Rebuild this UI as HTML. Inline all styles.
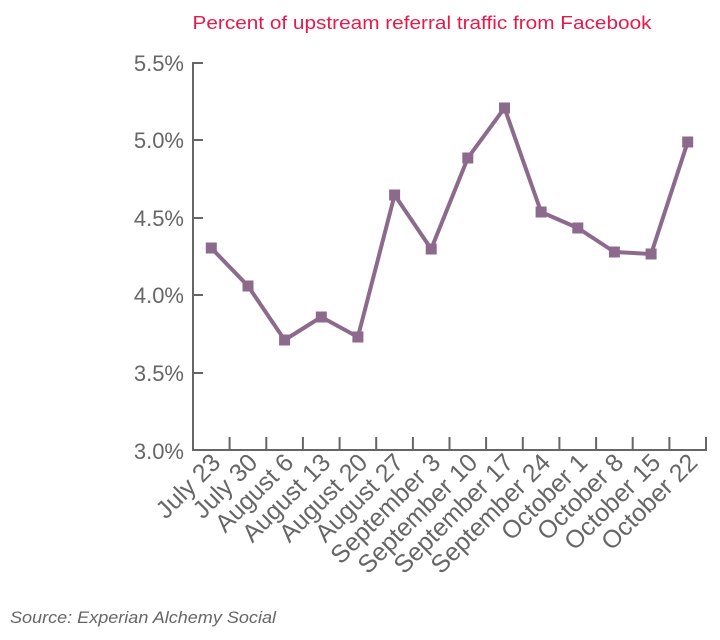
<!DOCTYPE html>
<html><head><meta charset="utf-8"><style>
html,body{margin:0;padding:0;background:#fff;}
svg{display:block;font-family:"Liberation Sans",sans-serif;}
</style></head><body>
<svg width="720" height="640" viewBox="0 0 720 640">
<text x="422" y="29" text-anchor="middle" font-size="18" fill="#e8194a" textLength="459" lengthAdjust="spacingAndGlyphs">Percent of upstream referral traffic from Facebook</text>
<g stroke="#666" stroke-width="2" fill="none">
<path d="M203 63 H193 V450 H706 V437"/>
<path d="M193 140 H203 M193 218 H203 M193 295 H203 M193 373 H203"/>
<path d="M229.6 450 V437 M266.3 450 V437 M302.9 450 V437 M339.6 450 V437 M376.2 450 V437 M412.9 450 V437 M449.5 450 V437 M486.1 450 V437 M522.8 450 V437 M559.4 450 V437 M596.1 450 V437 M632.7 450 V437 M669.4 450 V437"/>
</g>
<g font-size="22" fill="#666" text-anchor="end">
<text x="184" y="71">5.5%</text>
<text x="184" y="148">5.0%</text>
<text x="184" y="226">4.5%</text>
<text x="184" y="303">4.0%</text>
<text x="184" y="381">3.5%</text>
<text x="184" y="459">3.0%</text>
</g>
<g font-size="25" fill="#666" text-anchor="end">
<text transform="translate(222,464) rotate(-45)">July 23</text>
<text transform="translate(259,464) rotate(-45)">July 30</text>
<text transform="translate(295,464) rotate(-45)">August 6</text>
<text transform="translate(332,464) rotate(-45)">August 13</text>
<text transform="translate(369,464) rotate(-45)">August 20</text>
<text transform="translate(405,464) rotate(-45)">August 27</text>
<text transform="translate(442,464) rotate(-45)">September 3</text>
<text transform="translate(479,464) rotate(-45)">September 10</text>
<text transform="translate(515,464) rotate(-45)">September 17</text>
<text transform="translate(552,464) rotate(-45)">September 24</text>
<text transform="translate(589,464) rotate(-45)">October 1</text>
<text transform="translate(625,464) rotate(-45)">October 8</text>
<text transform="translate(662,464) rotate(-45)">October 15</text>
<text transform="translate(699,464) rotate(-45)">October 22</text>
</g>
<polyline fill="none" stroke="#8c6a8c" stroke-width="4" stroke-linejoin="round" points="211.3,248 248,286 284.6,340 321.3,317 357.9,337 394.6,195 431.2,249 467.8,158 504.5,108 541.1,212 577.8,228 614.4,252 651.1,254 687.7,142"/>
<g fill="#8c6a8c">
<rect x="205.8" y="242.5" width="11" height="11"/>
<rect x="242.5" y="280.5" width="11" height="11"/>
<rect x="279.1" y="334.5" width="11" height="11"/>
<rect x="315.8" y="311.5" width="11" height="11"/>
<rect x="352.4" y="331.5" width="11" height="11"/>
<rect x="389.1" y="189.5" width="11" height="11"/>
<rect x="425.7" y="243.5" width="11" height="11"/>
<rect x="462.3" y="152.5" width="11" height="11"/>
<rect x="499" y="102.5" width="11" height="11"/>
<rect x="535.6" y="206.5" width="11" height="11"/>
<rect x="572.3" y="222.5" width="11" height="11"/>
<rect x="608.9" y="246.5" width="11" height="11"/>
<rect x="645.6" y="248.5" width="11" height="11"/>
<rect x="682.2" y="136.5" width="11" height="11"/>
</g>
<text x="10" y="623" font-size="17" font-style="italic" fill="#666" textLength="266" lengthAdjust="spacingAndGlyphs">Source: Experian Alchemy Social</text>
</svg>
</body></html>
